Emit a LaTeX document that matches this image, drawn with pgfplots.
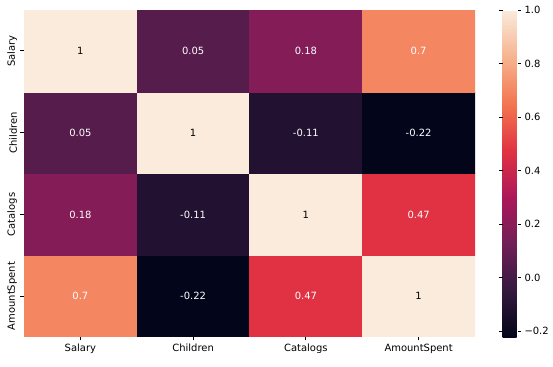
\documentclass[border=0pt]{standalone}
\usepackage{fontspec}
\setmainfont{DejaVu Sans}
\usepackage{pgfplots}
\pgfplotsset{compat=1.18}
\pgfplotsset{colormap={rocket}{rgb255=(3,5,26) rgb255=(53,25,62) rgb255=(112,31,87) rgb255=(173,23,89) rgb255=(225,51,66) rgb255=(243,118,81) rgb255=(246,180,143) rgb255=(250,235,221)}}
\begin{document}
\fontsize{10}{12}\selectfont
\begin{tikzpicture}
\useasboundingbox (0,0) rectangle (553bp,367bp);
\begin{axis}[name=main, at={(24bp,30bp)}, anchor=south west,
  scale only axis, width=451bp, height=327bp,
  xmin=-0.5, xmax=3.5, ymin=-0.5, ymax=3.5,
  axis line style={draw=none},
  tick align=outside, xtick pos=bottom, ytick pos=left,
  major tick length=3.5bp, tick style={black, line width=0.8bp},
  xtick={0,1,2,3}, xticklabels={Salary,Children,Catalogs,AmountSpent},
  ytick={0,1,2,3}, yticklabels={AmountSpent,Catalogs,Children,Salary},
  yticklabel style={rotate=90, anchor=south},
  ticklabel style={font=\fontsize{10}{12}\selectfont},
  colormap name=rocket, point meta min=-0.222, point meta max=1,
  colorbar,
  colorbar style={at={(parent axis.north east)}, anchor=north west, xshift=19bp,
    width=15bp, height=327bp, scale only axis,
    axis line style={draw=none},
    ytick={-0.2,0,0.2,0.4,0.6,0.8,1},
    yticklabels={−0.2,0.0,0.2,0.4,0.6,0.8,1.0},
    tick align=outside, major tick length=3.5bp, tick style={black, line width=0.8bp},
    yticklabel style={font=\fontsize{10}{12}\selectfont}},
]
\addplot[matrix plot*, mesh/cols=4, point meta=explicit, draw=none] table[meta=c] {
x y c
0 0 0.698
1 0 -0.222
2 0 0.472
3 0 1
0 1 0.184
1 1 -0.113
2 1 1
3 1 0.472
0 2 0.050
1 2 1
2 2 -0.113
3 2 -0.222
0 3 1
1 3 0.050
2 3 0.184
3 3 0.698
};
\addplot[draw=none, mark=none, nodes near coords, point meta=explicit symbolic,
  nodes near coords style={white, anchor=center, font=\fontsize{10}{12}\selectfont}] table[meta=l] {
x y l
1 3 0.05
2 3 0.18
3 3 0.7
0 2 0.05
2 2 -0.11
3 2 -0.22
0 1 0.18
1 1 -0.11
3 1 0.47
0 0 0.7
1 0 -0.22
2 0 0.47
};
\addplot[draw=none, mark=none, nodes near coords, point meta=explicit symbolic,
  nodes near coords style={black, anchor=center, font=\fontsize{10}{12}\selectfont}] table[meta=l] {
x y l
0 3 1
1 2 1
2 1 1
3 0 1
};
\end{axis}
\end{tikzpicture}
\end{document}
